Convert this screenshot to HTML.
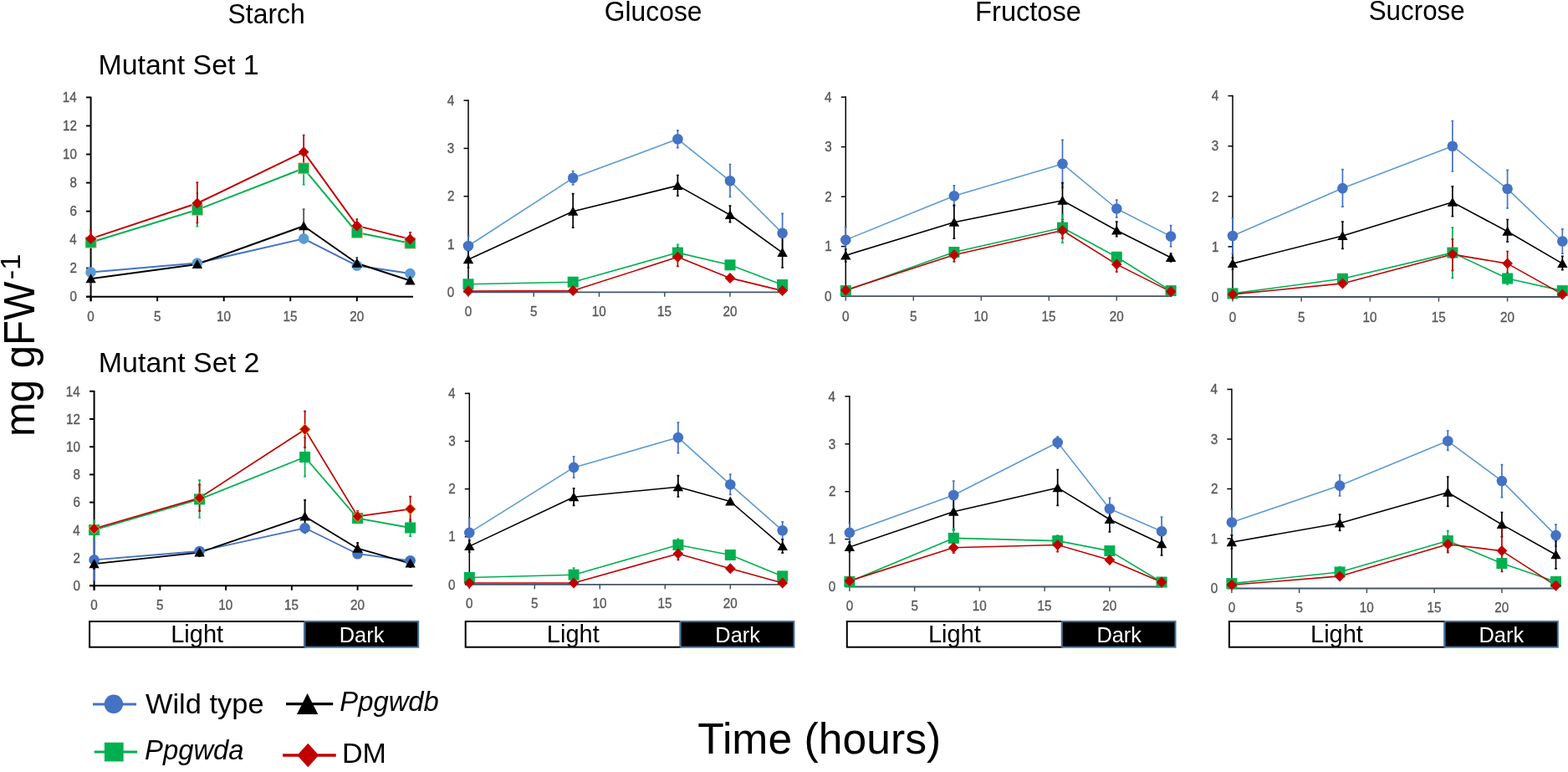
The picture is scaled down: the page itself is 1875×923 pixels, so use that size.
<!DOCTYPE html>
<html><head><meta charset="utf-8"><title>Figure</title>
<style>html,body{margin:0;padding:0;background:#fff;}body{width:1875px;height:923px;overflow:hidden;}svg{display:block;font-family:"Liberation Sans", Arial, sans-serif;}</style>
</head><body>
<svg width="1875" height="923" viewBox="0 0 1875 923"><text transform="translate(272.56,27.60) scale(0.9405,1)" font-size="33.93" fill="#000">Starch</text>
<text transform="translate(722.71,25.20) scale(0.9428,1)" font-size="33.79" fill="#000">Glucose</text>
<text transform="translate(1166.11,24.50) scale(0.9665,1)" font-size="33.75" fill="#000">Fructose</text>
<text transform="translate(1636.69,23.70) scale(0.9424,1)" font-size="33.29" fill="#000">Sucrose</text>
<text transform="translate(117.50,88.60) scale(1.0138,1)" font-size="33.45" fill="#000">Mutant Set 1</text>
<text transform="translate(117.80,445.30) scale(1.0159,1)" font-size="33.45" fill="#000">Mutant Set 2</text>
<g><line x1="108.6" y1="115.62" x2="108.6" y2="360.20" stroke="#000" stroke-width="2.0"/><line x1="103.1" y1="354.70" x2="108.6" y2="354.70" stroke="#000" stroke-width="2.0"/><text transform="translate(83.40,360.49) scale(0.92,1)" font-size="16.6" fill="#595959" stroke="#595959" stroke-width="0.35">0</text><line x1="103.1" y1="320.66" x2="108.6" y2="320.66" stroke="#000" stroke-width="2.0"/><text transform="translate(83.59,326.45) scale(0.92,1)" font-size="16.6" fill="#595959" stroke="#595959" stroke-width="0.35">2</text><line x1="103.1" y1="286.62" x2="108.6" y2="286.62" stroke="#000" stroke-width="2.0"/><text transform="translate(83.24,292.41) scale(0.92,1)" font-size="16.6" fill="#595959" stroke="#595959" stroke-width="0.35">4</text><line x1="103.1" y1="252.58" x2="108.6" y2="252.58" stroke="#000" stroke-width="2.0"/><text transform="translate(83.47,258.37) scale(0.92,1)" font-size="16.6" fill="#595959" stroke="#595959" stroke-width="0.35">6</text><line x1="103.1" y1="218.54" x2="108.6" y2="218.54" stroke="#000" stroke-width="2.0"/><text transform="translate(83.47,224.33) scale(0.92,1)" font-size="16.6" fill="#595959" stroke="#595959" stroke-width="0.35">8</text><line x1="103.1" y1="184.50" x2="108.6" y2="184.50" stroke="#000" stroke-width="2.0"/><text transform="translate(74.92,190.29) scale(0.92,1)" font-size="16.6" fill="#595959" stroke="#595959" stroke-width="0.35">10</text><line x1="103.1" y1="150.46" x2="108.6" y2="150.46" stroke="#000" stroke-width="2.0"/><text transform="translate(75.11,156.25) scale(0.92,1)" font-size="16.6" fill="#595959" stroke="#595959" stroke-width="0.35">12</text><line x1="103.1" y1="116.42" x2="108.6" y2="116.42" stroke="#000" stroke-width="2.0"/><text transform="translate(74.77,122.21) scale(0.92,1)" font-size="16.6" fill="#595959" stroke="#595959" stroke-width="0.35">14</text><line x1="103.1" y1="354.7" x2="494.00" y2="354.7" stroke="#000" stroke-width="2.0"/><line x1="108.60" y1="354.7" x2="108.60" y2="360.20" stroke="#000" stroke-width="2.0"/><text transform="translate(104.34,383.81) scale(0.92,1)" font-size="16.6" fill="#595959" stroke="#595959" stroke-width="0.35">0</text><line x1="188.15" y1="354.7" x2="188.15" y2="360.20" stroke="#000" stroke-width="2.0"/><text transform="translate(183.91,383.81) scale(0.92,1)" font-size="16.6" fill="#595959" stroke="#595959" stroke-width="0.35">5</text><line x1="267.70" y1="354.7" x2="267.70" y2="360.20" stroke="#000" stroke-width="2.0"/><text transform="translate(258.94,383.81) scale(0.92,1)" font-size="16.6" fill="#595959" stroke="#595959" stroke-width="0.35">10</text><line x1="347.25" y1="354.7" x2="347.25" y2="360.20" stroke="#000" stroke-width="2.0"/><text transform="translate(338.51,383.81) scale(0.92,1)" font-size="16.6" fill="#595959" stroke="#595959" stroke-width="0.35">15</text><line x1="426.80" y1="354.7" x2="426.80" y2="360.20" stroke="#000" stroke-width="2.0"/><text transform="translate(418.23,383.81) scale(0.92,1)" font-size="16.6" fill="#595959" stroke="#595959" stroke-width="0.35">20</text><path d="M108.60 322.00V329.00M107.20 322.00H110.00M107.20 329.00H110.00" stroke="#4472C4" stroke-width="1.7" fill="none"/><path d="M235.88 311.00V318.00M234.48 311.00H237.28M234.48 318.00H237.28" stroke="#4472C4" stroke-width="1.7" fill="none"/><path d="M363.16 282.00V289.00M361.76 282.00H364.56M361.76 289.00H364.56" stroke="#4472C4" stroke-width="1.7" fill="none"/><path d="M426.80 314.00V321.00M425.40 314.00H428.20M425.40 321.00H428.20" stroke="#4472C4" stroke-width="1.7" fill="none"/><path d="M490.44 324.00V330.00M489.04 324.00H491.84M489.04 330.00H491.84" stroke="#4472C4" stroke-width="1.7" fill="none"/><path d="M108.60 326.00V341.00M107.20 326.00H110.00M107.20 341.00H110.00" stroke="#5a5a5a" stroke-width="1.9" fill="none"/><path d="M235.88 312.00V320.00M234.48 312.00H237.28M234.48 320.00H237.28" stroke="#5a5a5a" stroke-width="1.9" fill="none"/><path d="M363.16 250.10V290.30M361.76 250.10H364.56M361.76 290.30H364.56" stroke="#5a5a5a" stroke-width="1.9" fill="none"/><path d="M426.80 308.00V321.40M425.40 308.00H428.20M425.40 321.40H428.20" stroke="#5a5a5a" stroke-width="1.9" fill="none"/><path d="M490.44 333.00V338.00M489.04 333.00H491.84M489.04 338.00H491.84" stroke="#5a5a5a" stroke-width="1.9" fill="none"/><path d="M108.60 284.00V296.00M107.20 284.00H110.00M107.20 296.00H110.00" stroke="#00B050" stroke-width="1.7" fill="none"/><path d="M235.88 231.00V270.60M234.48 231.00H237.28M234.48 270.60H237.28" stroke="#00B050" stroke-width="1.7" fill="none"/><path d="M363.16 182.00V220.60M361.76 182.00H364.56M361.76 220.60H364.56" stroke="#00B050" stroke-width="1.7" fill="none"/><path d="M426.80 272.00V282.00M425.40 272.00H428.20M425.40 282.00H428.20" stroke="#00B050" stroke-width="1.7" fill="none"/><path d="M490.44 286.00V295.00M489.04 286.00H491.84M489.04 295.00H491.84" stroke="#00B050" stroke-width="1.7" fill="none"/><path d="M108.60 275.40V295.40M107.20 275.40H110.00M107.20 295.40H110.00" stroke="#C00000" stroke-width="1.7" fill="none"/><path d="M235.88 218.20V266.30M234.48 218.20H237.28M234.48 266.30H237.28" stroke="#C00000" stroke-width="1.7" fill="none"/><path d="M363.16 161.50V201.90M361.76 161.50H364.56M361.76 201.90H364.56" stroke="#C00000" stroke-width="1.7" fill="none"/><path d="M426.80 262.00V277.80M425.40 262.00H428.20M425.40 277.80H428.20" stroke="#C00000" stroke-width="1.7" fill="none"/><path d="M490.44 277.80V294.00M489.04 277.80H491.84M489.04 294.00H491.84" stroke="#C00000" stroke-width="1.7" fill="none"/><polyline points="108.60,325.50 235.88,314.50 363.16,285.40 426.80,317.60 490.44,327.10" fill="none" stroke="#4472C4" stroke-width="2.0" stroke-linejoin="round"/><polyline points="108.60,333.30 235.88,315.90 363.16,270.20 426.80,314.70 490.44,335.50" fill="none" stroke="#000" stroke-width="2.0" stroke-linejoin="round"/><polyline points="108.60,289.70 235.88,250.80 363.16,201.30 426.80,278.00 490.44,290.70" fill="none" stroke="#00B050" stroke-width="2.0" stroke-linejoin="round"/><polyline points="108.60,285.40 235.88,243.00 363.16,181.70 426.80,269.90 490.44,285.90" fill="none" stroke="#C00000" stroke-width="2.0" stroke-linejoin="round"/><circle cx="108.60" cy="325.50" r="6.3" fill="#5B9BD5"/><circle cx="235.88" cy="314.50" r="6.3" fill="#5B9BD5"/><circle cx="363.16" cy="285.40" r="6.3" fill="#5B9BD5"/><circle cx="426.80" cy="317.60" r="6.3" fill="#5B9BD5"/><circle cx="490.44" cy="327.10" r="6.3" fill="#5B9BD5"/><path d="M108.60 327.30L114.80 338.30H102.40Z" fill="#000"/><path d="M235.88 309.90L242.08 320.90H229.68Z" fill="#000"/><path d="M363.16 264.20L369.36 275.20H356.96Z" fill="#000"/><path d="M426.80 308.70L433.00 319.70H420.60Z" fill="#000"/><path d="M490.44 329.50L496.64 340.50H484.24Z" fill="#000"/><rect x="102.10" y="283.20" width="13" height="13" fill="#00B050" stroke="#F4B183" stroke-width="0.8"/><rect x="229.38" y="244.30" width="13" height="13" fill="#00B050" stroke="#F4B183" stroke-width="0.8"/><rect x="356.66" y="194.80" width="13" height="13" fill="#00B050" stroke="#F4B183" stroke-width="0.8"/><rect x="420.30" y="271.50" width="13" height="13" fill="#00B050" stroke="#F4B183" stroke-width="0.8"/><rect x="483.94" y="284.20" width="13" height="13" fill="#00B050" stroke="#F4B183" stroke-width="0.8"/><path d="M108.60 278.90L115.00 285.40L108.60 291.90L102.20 285.40Z" fill="#C00000"/><path d="M235.88 236.50L242.28 243.00L235.88 249.50L229.48 243.00Z" fill="#C00000"/><path d="M363.16 175.20L369.56 181.70L363.16 188.20L356.76 181.70Z" fill="#C00000"/><path d="M426.80 263.40L433.20 269.90L426.80 276.40L420.40 269.90Z" fill="#C00000"/><path d="M490.44 279.40L496.84 285.90L490.44 292.40L484.04 285.90Z" fill="#C00000"/></g>
<g><line x1="560.0" y1="119.30" x2="560.0" y2="349.30" stroke="#000" stroke-width="1.5"/><line x1="554.5" y1="349.30" x2="560.0" y2="349.30" stroke="#000" stroke-width="1.5"/><text transform="translate(534.80,355.09) scale(0.92,1)" font-size="16.6" fill="#595959" stroke="#595959" stroke-width="0.35">0</text><line x1="554.5" y1="292.00" x2="560.0" y2="292.00" stroke="#000" stroke-width="1.5"/><text transform="translate(534.95,297.79) scale(0.92,1)" font-size="16.6" fill="#595959" stroke="#595959" stroke-width="0.35">1</text><line x1="554.5" y1="234.70" x2="560.0" y2="234.70" stroke="#000" stroke-width="1.5"/><text transform="translate(534.99,240.49) scale(0.92,1)" font-size="16.6" fill="#595959" stroke="#595959" stroke-width="0.35">2</text><line x1="554.5" y1="177.40" x2="560.0" y2="177.40" stroke="#000" stroke-width="1.5"/><text transform="translate(534.87,183.19) scale(0.92,1)" font-size="16.6" fill="#595959" stroke="#595959" stroke-width="0.35">3</text><line x1="554.5" y1="120.10" x2="560.0" y2="120.10" stroke="#000" stroke-width="1.5"/><text transform="translate(534.64,125.89) scale(0.92,1)" font-size="16.6" fill="#595959" stroke="#595959" stroke-width="0.35">4</text><line x1="560.0" y1="349.3" x2="937.10" y2="349.3" stroke="#44546A" stroke-width="1.8"/><line x1="560.00" y1="349.3" x2="560.00" y2="354.80" stroke="#44546A" stroke-width="1.5"/><text transform="translate(555.74,377.51) scale(0.92,1)" font-size="16.6" fill="#595959" stroke="#595959" stroke-width="0.35">0</text><line x1="638.25" y1="349.3" x2="638.25" y2="354.80" stroke="#44546A" stroke-width="1.5"/><text transform="translate(634.01,377.51) scale(0.92,1)" font-size="16.6" fill="#595959" stroke="#595959" stroke-width="0.35">5</text><line x1="716.50" y1="349.3" x2="716.50" y2="354.80" stroke="#44546A" stroke-width="1.5"/><text transform="translate(707.74,377.51) scale(0.92,1)" font-size="16.6" fill="#595959" stroke="#595959" stroke-width="0.35">10</text><line x1="794.75" y1="349.3" x2="794.75" y2="354.80" stroke="#44546A" stroke-width="1.5"/><text transform="translate(786.01,377.51) scale(0.92,1)" font-size="16.6" fill="#595959" stroke="#595959" stroke-width="0.35">15</text><line x1="873.00" y1="349.3" x2="873.00" y2="354.80" stroke="#44546A" stroke-width="1.5"/><text transform="translate(864.43,377.51) scale(0.92,1)" font-size="16.6" fill="#595959" stroke="#595959" stroke-width="0.35">20</text><path d="M560.00 282.00V306.00M558.60 282.00H561.40M558.60 306.00H561.40" stroke="#4472C4" stroke-width="1.7" fill="none"/><path d="M685.20 204.60V220.90M683.80 204.60H686.60M683.80 220.90H686.60" stroke="#4472C4" stroke-width="1.7" fill="none"/><path d="M810.40 155.90V176.70M809.00 155.90H811.80M809.00 176.70H811.80" stroke="#4472C4" stroke-width="1.7" fill="none"/><path d="M873.00 196.50V235.50M871.60 196.50H874.40M871.60 235.50H874.40" stroke="#4472C4" stroke-width="1.7" fill="none"/><path d="M935.60 255.30V302.10M934.20 255.30H937.00M934.20 302.10H937.00" stroke="#4472C4" stroke-width="1.7" fill="none"/><path d="M560.00 300.00V320.00M558.60 300.00H561.40M558.60 320.00H561.40" stroke="#000" stroke-width="1.7" fill="none"/><path d="M685.20 231.60V272.20M683.80 231.60H686.60M683.80 272.20H686.60" stroke="#000" stroke-width="1.7" fill="none"/><path d="M810.40 209.50V234.20M809.00 209.50H811.80M809.00 234.20H811.80" stroke="#000" stroke-width="1.7" fill="none"/><path d="M873.00 246.20V265.70M871.60 246.20H874.40M871.60 265.70H874.40" stroke="#000" stroke-width="1.7" fill="none"/><path d="M935.60 283.60V320.00M934.20 283.60H937.00M934.20 320.00H937.00" stroke="#000" stroke-width="1.7" fill="none"/><path d="M560.00 337.00V342.00M558.60 337.00H561.40M558.60 342.00H561.40" stroke="#00B050" stroke-width="1.7" fill="none"/><path d="M685.20 334.00V340.00M683.80 334.00H686.60M683.80 340.00H686.60" stroke="#00B050" stroke-width="1.7" fill="none"/><path d="M810.40 292.40V311.80M809.00 292.40H811.80M809.00 311.80H811.80" stroke="#00B050" stroke-width="1.7" fill="none"/><path d="M873.00 313.00V320.00M871.60 313.00H874.40M871.60 320.00H874.40" stroke="#00B050" stroke-width="1.7" fill="none"/><path d="M935.60 338.00V343.00M934.20 338.00H937.00M934.20 343.00H937.00" stroke="#00B050" stroke-width="1.7" fill="none"/><path d="M560.00 347.00V349.00M558.60 347.00H561.40M558.60 349.00H561.40" stroke="#C00000" stroke-width="1.7" fill="none"/><path d="M685.20 346.00V349.00M683.80 346.00H686.60M683.80 349.00H686.60" stroke="#C00000" stroke-width="1.7" fill="none"/><path d="M810.40 296.20V318.40M809.00 296.20H811.80M809.00 318.40H811.80" stroke="#C00000" stroke-width="1.7" fill="none"/><path d="M873.00 330.00V335.00M871.60 330.00H874.40M871.60 335.00H874.40" stroke="#C00000" stroke-width="1.7" fill="none"/><path d="M935.60 346.00V349.00M934.20 346.00H937.00M934.20 349.00H937.00" stroke="#C00000" stroke-width="1.7" fill="none"/><polyline points="560.00,294.00 685.20,212.80 810.40,166.30 873.00,216.30 935.60,278.70" fill="none" stroke="#5B9BD5" stroke-width="1.6" stroke-linejoin="round"/><polyline points="560.00,310.30 685.20,252.70 810.40,221.90 873.00,257.00 935.60,302.10" fill="none" stroke="#000" stroke-width="1.6" stroke-linejoin="round"/><polyline points="560.00,339.80 685.20,337.20 810.40,302.10 873.00,316.80 935.60,340.50" fill="none" stroke="#00B050" stroke-width="1.6" stroke-linejoin="round"/><polyline points="560.00,348.00 685.20,347.60 810.40,307.30 873.00,332.40 935.60,347.60" fill="none" stroke="#C00000" stroke-width="1.6" stroke-linejoin="round"/><circle cx="560.00" cy="294.00" r="6.3" fill="#4472C4"/><circle cx="685.20" cy="212.80" r="6.3" fill="#4472C4"/><circle cx="810.40" cy="166.30" r="6.3" fill="#4472C4"/><circle cx="873.00" cy="216.30" r="6.3" fill="#4472C4"/><circle cx="935.60" cy="278.70" r="6.3" fill="#4472C4"/><path d="M560.00 304.30L566.20 315.30H553.80Z" fill="#000"/><path d="M685.20 246.70L691.40 257.70H679.00Z" fill="#000"/><path d="M810.40 215.90L816.60 226.90H804.20Z" fill="#000"/><path d="M873.00 251.00L879.20 262.00H866.80Z" fill="#000"/><path d="M935.60 296.10L941.80 307.10H929.40Z" fill="#000"/><rect x="553.50" y="333.30" width="13" height="13" fill="#00B050"/><rect x="678.70" y="330.70" width="13" height="13" fill="#00B050"/><rect x="803.90" y="295.60" width="13" height="13" fill="#00B050"/><rect x="866.50" y="310.30" width="13" height="13" fill="#00B050"/><rect x="929.10" y="334.00" width="13" height="13" fill="#00B050"/><path d="M560.00 341.50L566.40 348.00L560.00 354.50L553.60 348.00Z" fill="#C00000"/><path d="M685.20 341.10L691.60 347.60L685.20 354.10L678.80 347.60Z" fill="#C00000"/><path d="M810.40 300.80L816.80 307.30L810.40 313.80L804.00 307.30Z" fill="#C00000"/><path d="M873.00 325.90L879.40 332.40L873.00 338.90L866.60 332.40Z" fill="#C00000"/><path d="M935.60 341.10L942.00 347.60L935.60 354.10L929.20 347.60Z" fill="#C00000"/></g>
<g><line x1="1011.3" y1="115.30" x2="1011.3" y2="354.10" stroke="#000" stroke-width="1.5"/><line x1="1005.8" y1="354.10" x2="1011.3" y2="354.10" stroke="#000" stroke-width="1.5"/><text transform="translate(986.10,359.89) scale(0.92,1)" font-size="16.6" fill="#595959" stroke="#595959" stroke-width="0.35">0</text><line x1="1005.8" y1="294.60" x2="1011.3" y2="294.60" stroke="#000" stroke-width="1.5"/><text transform="translate(986.25,300.39) scale(0.92,1)" font-size="16.6" fill="#595959" stroke="#595959" stroke-width="0.35">1</text><line x1="1005.8" y1="235.10" x2="1011.3" y2="235.10" stroke="#000" stroke-width="1.5"/><text transform="translate(986.29,240.89) scale(0.92,1)" font-size="16.6" fill="#595959" stroke="#595959" stroke-width="0.35">2</text><line x1="1005.8" y1="175.60" x2="1011.3" y2="175.60" stroke="#000" stroke-width="1.5"/><text transform="translate(986.17,181.39) scale(0.92,1)" font-size="16.6" fill="#595959" stroke="#595959" stroke-width="0.35">3</text><line x1="1005.8" y1="116.10" x2="1011.3" y2="116.10" stroke="#000" stroke-width="1.5"/><text transform="translate(985.94,121.89) scale(0.92,1)" font-size="16.6" fill="#595959" stroke="#595959" stroke-width="0.35">4</text><line x1="1011.3" y1="354.1" x2="1401.60" y2="354.1" stroke="#44546A" stroke-width="1.8"/><line x1="1011.30" y1="354.1" x2="1011.30" y2="359.60" stroke="#44546A" stroke-width="1.5"/><text transform="translate(1007.04,383.81) scale(0.92,1)" font-size="16.6" fill="#595959" stroke="#595959" stroke-width="0.35">0</text><line x1="1092.30" y1="354.1" x2="1092.30" y2="359.60" stroke="#44546A" stroke-width="1.5"/><text transform="translate(1088.06,383.81) scale(0.92,1)" font-size="16.6" fill="#595959" stroke="#595959" stroke-width="0.35">5</text><line x1="1173.30" y1="354.1" x2="1173.30" y2="359.60" stroke="#44546A" stroke-width="1.5"/><text transform="translate(1164.54,383.81) scale(0.92,1)" font-size="16.6" fill="#595959" stroke="#595959" stroke-width="0.35">10</text><line x1="1254.30" y1="354.1" x2="1254.30" y2="359.60" stroke="#44546A" stroke-width="1.5"/><text transform="translate(1245.56,383.81) scale(0.92,1)" font-size="16.6" fill="#595959" stroke="#595959" stroke-width="0.35">15</text><line x1="1335.30" y1="354.1" x2="1335.30" y2="359.60" stroke="#44546A" stroke-width="1.5"/><text transform="translate(1326.73,383.81) scale(0.92,1)" font-size="16.6" fill="#595959" stroke="#595959" stroke-width="0.35">20</text><path d="M1011.30 271.30V302.50M1009.90 271.30H1012.70M1009.90 302.50H1012.70" stroke="#4472C4" stroke-width="1.7" fill="none"/><path d="M1140.90 221.90V246.20M1139.50 221.90H1142.30M1139.50 246.20H1142.30" stroke="#4472C4" stroke-width="1.7" fill="none"/><path d="M1270.50 167.30V224.50M1269.10 167.30H1271.90M1269.10 224.50H1271.90" stroke="#4472C4" stroke-width="1.7" fill="none"/><path d="M1335.30 239.10V259.90M1333.90 239.10H1336.70M1333.90 259.90H1336.70" stroke="#4472C4" stroke-width="1.7" fill="none"/><path d="M1400.10 269.60V295.00M1398.70 269.60H1401.50M1398.70 295.00H1401.50" stroke="#4472C4" stroke-width="1.7" fill="none"/><path d="M1011.30 298.00V313.00M1009.90 298.00H1012.70M1009.90 313.00H1012.70" stroke="#000" stroke-width="1.7" fill="none"/><path d="M1140.90 245.30V285.20M1139.50 245.30H1142.30M1139.50 285.20H1142.30" stroke="#000" stroke-width="1.7" fill="none"/><path d="M1270.50 218.60V262.50M1269.10 218.60H1271.90M1269.10 262.50H1271.90" stroke="#000" stroke-width="1.7" fill="none"/><path d="M1335.30 265.10V282.60M1333.90 265.10H1336.70M1333.90 282.60H1336.70" stroke="#000" stroke-width="1.7" fill="none"/><path d="M1400.10 303.00V313.00M1398.70 303.00H1401.50M1398.70 313.00H1401.50" stroke="#000" stroke-width="1.7" fill="none"/><path d="M1011.30 345.00V350.00M1009.90 345.00H1012.70M1009.90 350.00H1012.70" stroke="#00B050" stroke-width="1.7" fill="none"/><path d="M1140.90 296.00V307.00M1139.50 296.00H1142.30M1139.50 307.00H1142.30" stroke="#00B050" stroke-width="1.7" fill="none"/><path d="M1270.50 256.00V290.10M1269.10 256.00H1271.90M1269.10 290.10H1271.90" stroke="#00B050" stroke-width="1.7" fill="none"/><path d="M1335.30 302.00V312.00M1333.90 302.00H1336.70M1333.90 312.00H1336.70" stroke="#00B050" stroke-width="1.7" fill="none"/><path d="M1400.10 345.00V350.00M1398.70 345.00H1401.50M1398.70 350.00H1401.50" stroke="#00B050" stroke-width="1.7" fill="none"/><path d="M1011.30 345.00V349.00M1009.90 345.00H1012.70M1009.90 349.00H1012.70" stroke="#C00000" stroke-width="1.7" fill="none"/><path d="M1140.90 296.50V312.90M1139.50 296.50H1142.30M1139.50 312.90H1142.30" stroke="#C00000" stroke-width="1.7" fill="none"/><path d="M1270.50 265.00V285.00M1269.10 265.00H1271.90M1269.10 285.00H1271.90" stroke="#C00000" stroke-width="1.7" fill="none"/><path d="M1335.30 307.00V325.20M1333.90 307.00H1336.70M1333.90 325.20H1336.70" stroke="#C00000" stroke-width="1.7" fill="none"/><path d="M1400.10 346.00V351.00M1398.70 346.00H1401.50M1398.70 351.00H1401.50" stroke="#C00000" stroke-width="1.7" fill="none"/><polyline points="1011.30,286.90 1140.90,234.20 1270.50,195.90 1335.30,249.50 1400.10,282.60" fill="none" stroke="#5B9BD5" stroke-width="1.6" stroke-linejoin="round"/><polyline points="1011.30,305.40 1140.90,265.70 1270.50,239.70 1335.30,275.50 1400.10,308.00" fill="none" stroke="#000" stroke-width="1.6" stroke-linejoin="round"/><polyline points="1011.30,347.60 1140.90,301.50 1270.50,272.20 1335.30,307.30 1400.10,347.60" fill="none" stroke="#00B050" stroke-width="1.6" stroke-linejoin="round"/><polyline points="1011.30,347.00 1140.90,304.70 1270.50,275.50 1335.30,316.10 1400.10,348.60" fill="none" stroke="#C00000" stroke-width="1.6" stroke-linejoin="round"/><circle cx="1011.30" cy="286.90" r="6.3" fill="#4472C4"/><circle cx="1140.90" cy="234.20" r="6.3" fill="#4472C4"/><circle cx="1270.50" cy="195.90" r="6.3" fill="#4472C4"/><circle cx="1335.30" cy="249.50" r="6.3" fill="#4472C4"/><circle cx="1400.10" cy="282.60" r="6.3" fill="#4472C4"/><path d="M1011.30 299.40L1017.50 310.40H1005.10Z" fill="#000"/><path d="M1140.90 259.70L1147.10 270.70H1134.70Z" fill="#000"/><path d="M1270.50 233.70L1276.70 244.70H1264.30Z" fill="#000"/><path d="M1335.30 269.50L1341.50 280.50H1329.10Z" fill="#000"/><path d="M1400.10 302.00L1406.30 313.00H1393.90Z" fill="#000"/><rect x="1004.80" y="341.10" width="13" height="13" fill="#00B050"/><rect x="1134.40" y="295.00" width="13" height="13" fill="#00B050"/><rect x="1264.00" y="265.70" width="13" height="13" fill="#00B050"/><rect x="1328.80" y="300.80" width="13" height="13" fill="#00B050"/><rect x="1393.60" y="341.10" width="13" height="13" fill="#00B050"/><path d="M1011.30 340.50L1017.70 347.00L1011.30 353.50L1004.90 347.00Z" fill="#C00000"/><path d="M1140.90 298.20L1147.30 304.70L1140.90 311.20L1134.50 304.70Z" fill="#C00000"/><path d="M1270.50 269.00L1276.90 275.50L1270.50 282.00L1264.10 275.50Z" fill="#C00000"/><path d="M1335.30 309.60L1341.70 316.10L1335.30 322.60L1328.90 316.10Z" fill="#C00000"/><path d="M1400.10 342.10L1406.50 348.60L1400.10 355.10L1393.70 348.60Z" fill="#C00000"/></g>
<g><line x1="1474.0" y1="113.80" x2="1474.0" y2="355.00" stroke="#000" stroke-width="1.5"/><line x1="1468.5" y1="355.00" x2="1474.0" y2="355.00" stroke="#000" stroke-width="1.5"/><text transform="translate(1448.80,360.79) scale(0.92,1)" font-size="16.6" fill="#595959" stroke="#595959" stroke-width="0.35">0</text><line x1="1468.5" y1="294.90" x2="1474.0" y2="294.90" stroke="#000" stroke-width="1.5"/><text transform="translate(1448.95,300.69) scale(0.92,1)" font-size="16.6" fill="#595959" stroke="#595959" stroke-width="0.35">1</text><line x1="1468.5" y1="234.80" x2="1474.0" y2="234.80" stroke="#000" stroke-width="1.5"/><text transform="translate(1448.99,240.59) scale(0.92,1)" font-size="16.6" fill="#595959" stroke="#595959" stroke-width="0.35">2</text><line x1="1468.5" y1="174.70" x2="1474.0" y2="174.70" stroke="#000" stroke-width="1.5"/><text transform="translate(1448.87,180.49) scale(0.92,1)" font-size="16.6" fill="#595959" stroke="#595959" stroke-width="0.35">3</text><line x1="1468.5" y1="114.60" x2="1474.0" y2="114.60" stroke="#000" stroke-width="1.5"/><text transform="translate(1448.64,120.39) scale(0.92,1)" font-size="16.6" fill="#595959" stroke="#595959" stroke-width="0.35">4</text><line x1="1474.0" y1="355.0" x2="1869.82" y2="355.0" stroke="#44546A" stroke-width="1.8"/><line x1="1474.00" y1="355.0" x2="1474.00" y2="360.50" stroke="#44546A" stroke-width="1.5"/><text transform="translate(1469.74,384.61) scale(0.92,1)" font-size="16.6" fill="#595959" stroke="#595959" stroke-width="0.35">0</text><line x1="1556.15" y1="355.0" x2="1556.15" y2="360.50" stroke="#44546A" stroke-width="1.5"/><text transform="translate(1551.91,384.61) scale(0.92,1)" font-size="16.6" fill="#595959" stroke="#595959" stroke-width="0.35">5</text><line x1="1638.30" y1="355.0" x2="1638.30" y2="360.50" stroke="#44546A" stroke-width="1.5"/><text transform="translate(1629.54,384.61) scale(0.92,1)" font-size="16.6" fill="#595959" stroke="#595959" stroke-width="0.35">10</text><line x1="1720.45" y1="355.0" x2="1720.45" y2="360.50" stroke="#44546A" stroke-width="1.5"/><text transform="translate(1711.71,384.61) scale(0.92,1)" font-size="16.6" fill="#595959" stroke="#595959" stroke-width="0.35">15</text><line x1="1802.60" y1="355.0" x2="1802.60" y2="360.50" stroke="#44546A" stroke-width="1.5"/><text transform="translate(1794.03,384.61) scale(0.92,1)" font-size="16.6" fill="#595959" stroke="#595959" stroke-width="0.35">20</text><path d="M1474.00 260.90V303.10M1472.60 260.90H1475.40M1472.60 303.10H1475.40" stroke="#4472C4" stroke-width="1.7" fill="none"/><path d="M1605.44 202.70V247.20M1604.04 202.70H1606.84M1604.04 247.20H1606.84" stroke="#4472C4" stroke-width="1.7" fill="none"/><path d="M1736.88 144.50V205.00M1735.48 144.50H1738.28M1735.48 205.00H1738.28" stroke="#4472C4" stroke-width="1.7" fill="none"/><path d="M1802.60 203.30V248.80M1801.20 203.30H1804.00M1801.20 248.80H1804.00" stroke="#4472C4" stroke-width="1.7" fill="none"/><path d="M1868.32 273.90V303.10M1866.92 273.90H1869.72M1866.92 303.10H1869.72" stroke="#4472C4" stroke-width="1.7" fill="none"/><path d="M1474.00 308.00V322.00M1472.60 308.00H1475.40M1472.60 322.00H1475.40" stroke="#000" stroke-width="1.7" fill="none"/><path d="M1605.44 265.10V297.30M1604.04 265.10H1606.84M1604.04 297.30H1606.84" stroke="#000" stroke-width="1.7" fill="none"/><path d="M1736.88 222.80V258.60M1735.48 222.80H1738.28M1735.48 258.60H1738.28" stroke="#000" stroke-width="1.7" fill="none"/><path d="M1802.60 262.50V289.10M1801.20 262.50H1804.00M1801.20 289.10H1804.00" stroke="#000" stroke-width="1.7" fill="none"/><path d="M1868.32 306.40V322.60M1866.92 306.40H1869.72M1866.92 322.60H1869.72" stroke="#000" stroke-width="1.7" fill="none"/><path d="M1474.00 348.00V353.00M1472.60 348.00H1475.40M1472.60 353.00H1475.40" stroke="#00B050" stroke-width="1.7" fill="none"/><path d="M1605.44 328.00V338.00M1604.04 328.00H1606.84M1604.04 338.00H1606.84" stroke="#00B050" stroke-width="1.7" fill="none"/><path d="M1736.88 272.20V332.40M1735.48 272.20H1738.28M1735.48 332.40H1738.28" stroke="#00B050" stroke-width="1.7" fill="none"/><path d="M1802.60 326.00V340.00M1801.20 326.00H1804.00M1801.20 340.00H1804.00" stroke="#00B050" stroke-width="1.7" fill="none"/><path d="M1868.32 345.00V350.00M1866.92 345.00H1869.72M1866.92 350.00H1869.72" stroke="#00B050" stroke-width="1.7" fill="none"/><path d="M1474.00 350.00V354.00M1472.60 350.00H1475.40M1472.60 354.00H1475.40" stroke="#C00000" stroke-width="1.7" fill="none"/><path d="M1605.44 335.00V342.00M1604.04 335.00H1606.84M1604.04 342.00H1606.84" stroke="#C00000" stroke-width="1.7" fill="none"/><path d="M1736.88 285.90V323.30M1735.48 285.90H1738.28M1735.48 323.30H1738.28" stroke="#C00000" stroke-width="1.7" fill="none"/><path d="M1802.60 300.50V329.70M1801.20 300.50H1804.00M1801.20 329.70H1804.00" stroke="#C00000" stroke-width="1.7" fill="none"/><path d="M1868.32 350.00V354.00M1866.92 350.00H1869.72M1866.92 354.00H1869.72" stroke="#C00000" stroke-width="1.7" fill="none"/><polyline points="1474.00,282.00 1605.44,225.10 1736.88,174.70 1802.60,225.80 1868.32,288.50" fill="none" stroke="#5B9BD5" stroke-width="1.6" stroke-linejoin="round"/><polyline points="1474.00,315.10 1605.44,282.00 1736.88,241.70 1802.60,276.80 1868.32,315.10" fill="none" stroke="#000" stroke-width="1.6" stroke-linejoin="round"/><polyline points="1474.00,350.90 1605.44,333.30 1736.88,302.10 1802.60,333.00 1868.32,347.60" fill="none" stroke="#00B050" stroke-width="1.6" stroke-linejoin="round"/><polyline points="1474.00,351.90 1605.44,338.90 1736.88,304.10 1802.60,315.10 1868.32,351.90" fill="none" stroke="#C00000" stroke-width="1.6" stroke-linejoin="round"/><circle cx="1474.00" cy="282.00" r="6.3" fill="#4472C4"/><circle cx="1605.44" cy="225.10" r="6.3" fill="#4472C4"/><circle cx="1736.88" cy="174.70" r="6.3" fill="#4472C4"/><circle cx="1802.60" cy="225.80" r="6.3" fill="#4472C4"/><circle cx="1868.32" cy="288.50" r="6.3" fill="#4472C4"/><path d="M1474.00 309.10L1480.20 320.10H1467.80Z" fill="#000"/><path d="M1605.44 276.00L1611.64 287.00H1599.24Z" fill="#000"/><path d="M1736.88 235.70L1743.08 246.70H1730.68Z" fill="#000"/><path d="M1802.60 270.80L1808.80 281.80H1796.40Z" fill="#000"/><path d="M1868.32 309.10L1874.52 320.10H1862.12Z" fill="#000"/><rect x="1467.50" y="344.40" width="13" height="13" fill="#00B050"/><rect x="1598.94" y="326.80" width="13" height="13" fill="#00B050"/><rect x="1730.38" y="295.60" width="13" height="13" fill="#00B050"/><rect x="1796.10" y="326.50" width="13" height="13" fill="#00B050"/><rect x="1861.82" y="341.10" width="13" height="13" fill="#00B050"/><path d="M1474.00 345.40L1480.40 351.90L1474.00 358.40L1467.60 351.90Z" fill="#C00000"/><path d="M1605.44 332.40L1611.84 338.90L1605.44 345.40L1599.04 338.90Z" fill="#C00000"/><path d="M1736.88 297.60L1743.28 304.10L1736.88 310.60L1730.48 304.10Z" fill="#C00000"/><path d="M1802.60 308.60L1809.00 315.10L1802.60 321.60L1796.20 315.10Z" fill="#C00000"/><path d="M1868.32 345.40L1874.72 351.90L1868.32 358.40L1861.92 351.90Z" fill="#C00000"/></g>
<g><line x1="112.6" y1="467.00" x2="112.6" y2="705.70" stroke="#000" stroke-width="2.0"/><line x1="107.1" y1="700.20" x2="112.6" y2="700.20" stroke="#000" stroke-width="2.0"/><text transform="translate(87.40,705.99) scale(0.92,1)" font-size="16.6" fill="#595959" stroke="#595959" stroke-width="0.35">0</text><line x1="107.1" y1="667.00" x2="112.6" y2="667.00" stroke="#000" stroke-width="2.0"/><text transform="translate(87.59,672.79) scale(0.92,1)" font-size="16.6" fill="#595959" stroke="#595959" stroke-width="0.35">2</text><line x1="107.1" y1="633.80" x2="112.6" y2="633.80" stroke="#000" stroke-width="2.0"/><text transform="translate(87.24,639.59) scale(0.92,1)" font-size="16.6" fill="#595959" stroke="#595959" stroke-width="0.35">4</text><line x1="107.1" y1="600.60" x2="112.6" y2="600.60" stroke="#000" stroke-width="2.0"/><text transform="translate(87.47,606.39) scale(0.92,1)" font-size="16.6" fill="#595959" stroke="#595959" stroke-width="0.35">6</text><line x1="107.1" y1="567.40" x2="112.6" y2="567.40" stroke="#000" stroke-width="2.0"/><text transform="translate(87.47,573.19) scale(0.92,1)" font-size="16.6" fill="#595959" stroke="#595959" stroke-width="0.35">8</text><line x1="107.1" y1="534.20" x2="112.6" y2="534.20" stroke="#000" stroke-width="2.0"/><text transform="translate(78.92,539.99) scale(0.92,1)" font-size="16.6" fill="#595959" stroke="#595959" stroke-width="0.35">10</text><line x1="107.1" y1="501.00" x2="112.6" y2="501.00" stroke="#000" stroke-width="2.0"/><text transform="translate(79.11,506.79) scale(0.92,1)" font-size="16.6" fill="#595959" stroke="#595959" stroke-width="0.35">12</text><line x1="107.1" y1="467.80" x2="112.6" y2="467.80" stroke="#000" stroke-width="2.0"/><text transform="translate(78.77,473.59) scale(0.92,1)" font-size="16.6" fill="#595959" stroke="#595959" stroke-width="0.35">14</text><line x1="107.1" y1="700.2" x2="493.30" y2="700.2" stroke="#000" stroke-width="2.0"/><line x1="112.60" y1="700.2" x2="112.60" y2="705.70" stroke="#000" stroke-width="2.0"/><text transform="translate(108.34,728.61) scale(0.92,1)" font-size="16.6" fill="#595959" stroke="#595959" stroke-width="0.35">0</text><line x1="191.35" y1="700.2" x2="191.35" y2="705.70" stroke="#000" stroke-width="2.0"/><text transform="translate(187.11,728.61) scale(0.92,1)" font-size="16.6" fill="#595959" stroke="#595959" stroke-width="0.35">5</text><line x1="270.10" y1="700.2" x2="270.10" y2="705.70" stroke="#000" stroke-width="2.0"/><text transform="translate(261.34,728.61) scale(0.92,1)" font-size="16.6" fill="#595959" stroke="#595959" stroke-width="0.35">10</text><line x1="348.85" y1="700.2" x2="348.85" y2="705.70" stroke="#000" stroke-width="2.0"/><text transform="translate(340.11,728.61) scale(0.92,1)" font-size="16.6" fill="#595959" stroke="#595959" stroke-width="0.35">15</text><line x1="427.60" y1="700.2" x2="427.60" y2="705.70" stroke="#000" stroke-width="2.0"/><text transform="translate(419.03,728.61) scale(0.92,1)" font-size="16.6" fill="#595959" stroke="#595959" stroke-width="0.35">20</text><path d="M112.60 645.00V693.70M111.20 645.00H114.00M111.20 693.70H114.00" stroke="#4472C4" stroke-width="1.7" fill="none"/><path d="M238.60 655.00V663.00M237.20 655.00H240.00M237.20 663.00H240.00" stroke="#4472C4" stroke-width="1.7" fill="none"/><path d="M364.60 627.00V635.00M363.20 627.00H366.00M363.20 635.00H366.00" stroke="#4472C4" stroke-width="1.7" fill="none"/><path d="M427.60 658.00V666.00M426.20 658.00H429.00M426.20 666.00H429.00" stroke="#4472C4" stroke-width="1.7" fill="none"/><path d="M490.60 666.00V674.00M489.20 666.00H492.00M489.20 674.00H492.00" stroke="#4472C4" stroke-width="1.7" fill="none"/><path d="M112.60 668.00V680.00M111.20 668.00H114.00M111.20 680.00H114.00" stroke="#000" stroke-width="1.9" fill="none"/><path d="M238.60 656.00V665.00M237.20 656.00H240.00M237.20 665.00H240.00" stroke="#000" stroke-width="1.9" fill="none"/><path d="M364.60 597.90V636.90M363.20 597.90H366.00M363.20 636.90H366.00" stroke="#000" stroke-width="1.9" fill="none"/><path d="M427.60 648.90V662.50M426.20 648.90H429.00M426.20 662.50H429.00" stroke="#000" stroke-width="1.9" fill="none"/><path d="M490.60 669.00V678.00M489.20 669.00H492.00M489.20 678.00H492.00" stroke="#000" stroke-width="1.9" fill="none"/><path d="M112.60 622.20V645.00M111.20 622.20H114.00M111.20 645.00H114.00" stroke="#00B050" stroke-width="1.7" fill="none"/><path d="M238.60 574.10V619.00M237.20 574.10H240.00M237.20 619.00H240.00" stroke="#00B050" stroke-width="1.7" fill="none"/><path d="M364.60 523.40V569.60M363.20 523.40H366.00M363.20 569.60H366.00" stroke="#00B050" stroke-width="1.7" fill="none"/><path d="M427.60 614.00V625.00M426.20 614.00H429.00M426.20 625.00H429.00" stroke="#00B050" stroke-width="1.7" fill="none"/><path d="M490.60 621.00V641.10M489.20 621.00H492.00M489.20 641.10H492.00" stroke="#00B050" stroke-width="1.7" fill="none"/><path d="M112.60 626.00V638.00M111.20 626.00H114.00M111.20 638.00H114.00" stroke="#C00000" stroke-width="1.7" fill="none"/><path d="M238.60 579.30V610.90M237.20 579.30H240.00M237.20 610.90H240.00" stroke="#C00000" stroke-width="1.7" fill="none"/><path d="M364.60 491.60V535.10M363.20 491.60H366.00M363.20 535.10H366.00" stroke="#C00000" stroke-width="1.7" fill="none"/><path d="M427.60 610.90V624.00M426.20 610.90H429.00M426.20 624.00H429.00" stroke="#C00000" stroke-width="1.7" fill="none"/><path d="M490.60 593.60V623.60M489.20 593.60H492.00M489.20 623.60H492.00" stroke="#C00000" stroke-width="1.7" fill="none"/><polyline points="112.60,669.40 238.60,659.00 364.60,631.30 427.60,662.20 490.60,670.30" fill="none" stroke="#4472C4" stroke-width="1.8" stroke-linejoin="round"/><polyline points="112.60,674.20 238.60,660.60 364.60,617.40 427.60,655.70 490.60,673.60" fill="none" stroke="#000" stroke-width="1.8" stroke-linejoin="round"/><polyline points="112.60,633.60 238.60,596.90 364.60,546.50 427.60,619.60 490.60,631.00" fill="none" stroke="#00B050" stroke-width="1.8" stroke-linejoin="round"/><polyline points="112.60,632.00 238.60,595.30 364.60,513.40 427.60,617.40 490.60,608.60" fill="none" stroke="#C00000" stroke-width="1.8" stroke-linejoin="round"/><circle cx="112.60" cy="669.40" r="6.3" fill="#4472C4"/><circle cx="238.60" cy="659.00" r="6.3" fill="#4472C4"/><circle cx="364.60" cy="631.30" r="6.3" fill="#4472C4"/><circle cx="427.60" cy="662.20" r="6.3" fill="#4472C4"/><circle cx="490.60" cy="670.30" r="6.3" fill="#4472C4"/><path d="M112.60 668.20L118.80 679.20H106.40Z" fill="#000"/><path d="M238.60 654.60L244.80 665.60H232.40Z" fill="#000"/><path d="M364.60 611.40L370.80 622.40H358.40Z" fill="#000"/><path d="M427.60 649.70L433.80 660.70H421.40Z" fill="#000"/><path d="M490.60 667.60L496.80 678.60H484.40Z" fill="#000"/><rect x="106.10" y="627.10" width="13" height="13" fill="#00B050"/><rect x="232.10" y="590.40" width="13" height="13" fill="#00B050"/><rect x="358.10" y="540.00" width="13" height="13" fill="#00B050"/><rect x="421.10" y="613.10" width="13" height="13" fill="#00B050"/><rect x="484.10" y="624.50" width="13" height="13" fill="#00B050"/><path d="M112.60 625.50L119.00 632.00L112.60 638.50L106.20 632.00Z" fill="#C00000" stroke="#FFC000" stroke-width="0.8"/><path d="M238.60 588.80L245.00 595.30L238.60 601.80L232.20 595.30Z" fill="#C00000" stroke="#FFC000" stroke-width="0.8"/><path d="M364.60 506.90L371.00 513.40L364.60 519.90L358.20 513.40Z" fill="#C00000" stroke="#FFC000" stroke-width="0.8"/><path d="M427.60 610.90L434.00 617.40L427.60 623.90L421.20 617.40Z" fill="#C00000" stroke="#FFC000" stroke-width="0.8"/><path d="M490.60 602.10L497.00 608.60L490.60 615.10L484.20 608.60Z" fill="#C00000" stroke="#FFC000" stroke-width="0.8"/></g>
<g><line x1="561.3" y1="469.60" x2="561.3" y2="698.80" stroke="#000" stroke-width="1.5"/><line x1="555.8" y1="698.80" x2="561.3" y2="698.80" stroke="#000" stroke-width="1.5"/><text transform="translate(536.10,704.59) scale(0.92,1)" font-size="16.6" fill="#595959" stroke="#595959" stroke-width="0.35">0</text><line x1="555.8" y1="641.70" x2="561.3" y2="641.70" stroke="#000" stroke-width="1.5"/><text transform="translate(536.25,647.49) scale(0.92,1)" font-size="16.6" fill="#595959" stroke="#595959" stroke-width="0.35">1</text><line x1="555.8" y1="584.60" x2="561.3" y2="584.60" stroke="#000" stroke-width="1.5"/><text transform="translate(536.29,590.39) scale(0.92,1)" font-size="16.6" fill="#595959" stroke="#595959" stroke-width="0.35">2</text><line x1="555.8" y1="527.50" x2="561.3" y2="527.50" stroke="#000" stroke-width="1.5"/><text transform="translate(536.17,533.29) scale(0.92,1)" font-size="16.6" fill="#595959" stroke="#595959" stroke-width="0.35">3</text><line x1="555.8" y1="470.40" x2="561.3" y2="470.40" stroke="#000" stroke-width="1.5"/><text transform="translate(535.94,476.19) scale(0.92,1)" font-size="16.6" fill="#595959" stroke="#595959" stroke-width="0.35">4</text><line x1="561.3" y1="698.8" x2="937.20" y2="698.8" stroke="#44546A" stroke-width="1.8"/><line x1="561.30" y1="698.8" x2="561.30" y2="704.30" stroke="#44546A" stroke-width="1.5"/><text transform="translate(557.04,726.91) scale(0.92,1)" font-size="16.6" fill="#595959" stroke="#595959" stroke-width="0.35">0</text><line x1="639.30" y1="698.8" x2="639.30" y2="704.30" stroke="#44546A" stroke-width="1.5"/><text transform="translate(635.06,726.91) scale(0.92,1)" font-size="16.6" fill="#595959" stroke="#595959" stroke-width="0.35">5</text><line x1="717.30" y1="698.8" x2="717.30" y2="704.30" stroke="#44546A" stroke-width="1.5"/><text transform="translate(708.54,726.91) scale(0.92,1)" font-size="16.6" fill="#595959" stroke="#595959" stroke-width="0.35">10</text><line x1="795.30" y1="698.8" x2="795.30" y2="704.30" stroke="#44546A" stroke-width="1.5"/><text transform="translate(786.56,726.91) scale(0.92,1)" font-size="16.6" fill="#595959" stroke="#595959" stroke-width="0.35">15</text><line x1="873.30" y1="698.8" x2="873.30" y2="704.30" stroke="#44546A" stroke-width="1.5"/><text transform="translate(864.73,726.91) scale(0.92,1)" font-size="16.6" fill="#595959" stroke="#595959" stroke-width="0.35">20</text><path d="M561.30 619.00V654.80M559.90 619.00H562.70M559.90 654.80H562.70" stroke="#4472C4" stroke-width="1.7" fill="none"/><path d="M686.10 545.90V571.20M684.70 545.90H687.50M684.70 571.20H687.50" stroke="#4472C4" stroke-width="1.7" fill="none"/><path d="M810.90 505.20V541.60M809.50 505.20H812.30M809.50 541.60H812.30" stroke="#4472C4" stroke-width="1.7" fill="none"/><path d="M873.30 567.00V591.40M871.90 567.00H874.70M871.90 591.40H874.70" stroke="#4472C4" stroke-width="1.7" fill="none"/><path d="M935.70 623.90V644.70M934.30 623.90H937.10M934.30 644.70H937.10" stroke="#4472C4" stroke-width="1.7" fill="none"/><path d="M561.30 646.00V660.00M559.90 646.00H562.70M559.90 660.00H562.70" stroke="#000" stroke-width="1.7" fill="none"/><path d="M686.10 583.90V604.40M684.70 583.90H687.50M684.70 604.40H687.50" stroke="#000" stroke-width="1.7" fill="none"/><path d="M810.90 568.60V594.00M809.50 568.60H812.30M809.50 594.00H812.30" stroke="#000" stroke-width="1.7" fill="none"/><path d="M873.30 599.00V600.00M871.90 599.00H874.70M871.90 600.00H874.70" stroke="#000" stroke-width="1.7" fill="none"/><path d="M935.70 645.00V661.20M934.30 645.00H937.10M934.30 661.20H937.10" stroke="#000" stroke-width="1.7" fill="none"/><path d="M561.30 688.00V693.00M559.90 688.00H562.70M559.90 693.00H562.70" stroke="#00B050" stroke-width="1.7" fill="none"/><path d="M686.10 679.00V695.00M684.70 679.00H687.50M684.70 695.00H687.50" stroke="#00B050" stroke-width="1.7" fill="none"/><path d="M810.90 644.30V658.70M809.50 644.30H812.30M809.50 658.70H812.30" stroke="#00B050" stroke-width="1.7" fill="none"/><path d="M873.30 659.00V668.00M871.90 659.00H874.70M871.90 668.00H874.70" stroke="#00B050" stroke-width="1.7" fill="none"/><path d="M935.70 686.00V692.00M934.30 686.00H937.10M934.30 692.00H937.10" stroke="#00B050" stroke-width="1.7" fill="none"/><path d="M561.30 696.00V698.00M559.90 696.00H562.70M559.90 698.00H562.70" stroke="#C00000" stroke-width="1.7" fill="none"/><path d="M686.10 696.00V698.00M684.70 696.00H687.50M684.70 698.00H687.50" stroke="#C00000" stroke-width="1.7" fill="none"/><path d="M810.90 654.40V669.40M809.50 654.40H812.30M809.50 669.40H812.30" stroke="#C00000" stroke-width="1.7" fill="none"/><path d="M873.30 677.00V683.00M871.90 677.00H874.70M871.90 683.00H874.70" stroke="#C00000" stroke-width="1.7" fill="none"/><path d="M935.70 696.00V698.00M934.30 696.00H937.10M934.30 698.00H937.10" stroke="#C00000" stroke-width="1.7" fill="none"/><polyline points="561.30,636.90 686.10,558.90 810.90,523.10 873.30,579.30 935.70,634.30" fill="none" stroke="#5B9BD5" stroke-width="1.6" stroke-linejoin="round"/><polyline points="561.30,653.10 686.10,594.30 810.90,582.30 873.30,599.50 935.70,653.10" fill="none" stroke="#000" stroke-width="1.6" stroke-linejoin="round"/><polyline points="561.30,690.50 686.10,687.20 810.90,651.50 873.30,663.50 935.70,688.90" fill="none" stroke="#00B050" stroke-width="1.6" stroke-linejoin="round"/><polyline points="561.30,697.00 686.10,697.00 810.90,661.90 873.30,679.80 935.70,697.00" fill="none" stroke="#C00000" stroke-width="1.6" stroke-linejoin="round"/><circle cx="561.30" cy="636.90" r="6.3" fill="#4472C4"/><circle cx="686.10" cy="558.90" r="6.3" fill="#4472C4"/><circle cx="810.90" cy="523.10" r="6.3" fill="#4472C4"/><circle cx="873.30" cy="579.30" r="6.3" fill="#4472C4"/><circle cx="935.70" cy="634.30" r="6.3" fill="#4472C4"/><path d="M561.30 647.10L567.50 658.10H555.10Z" fill="#000"/><path d="M686.10 588.30L692.30 599.30H679.90Z" fill="#000"/><path d="M810.90 576.30L817.10 587.30H804.70Z" fill="#000"/><path d="M873.30 593.50L879.50 604.50H867.10Z" fill="#000"/><path d="M935.70 647.10L941.90 658.10H929.50Z" fill="#000"/><rect x="554.80" y="684.00" width="13" height="13" fill="#00B050"/><rect x="679.60" y="680.70" width="13" height="13" fill="#00B050"/><rect x="804.40" y="645.00" width="13" height="13" fill="#00B050"/><rect x="866.80" y="657.00" width="13" height="13" fill="#00B050"/><rect x="929.20" y="682.40" width="13" height="13" fill="#00B050"/><path d="M561.30 690.50L567.70 697.00L561.30 703.50L554.90 697.00Z" fill="#C00000"/><path d="M686.10 690.50L692.50 697.00L686.10 703.50L679.70 697.00Z" fill="#C00000"/><path d="M810.90 655.40L817.30 661.90L810.90 668.40L804.50 661.90Z" fill="#C00000"/><path d="M873.30 673.30L879.70 679.80L873.30 686.30L866.90 679.80Z" fill="#C00000"/><path d="M935.70 690.50L942.10 697.00L935.70 703.50L929.30 697.00Z" fill="#C00000"/></g>
<g><line x1="1015.9" y1="473.10" x2="1015.9" y2="701.50" stroke="#000" stroke-width="1.5"/><line x1="1010.4" y1="701.50" x2="1015.9" y2="701.50" stroke="#000" stroke-width="1.5"/><text transform="translate(990.70,707.29) scale(0.92,1)" font-size="16.6" fill="#595959" stroke="#595959" stroke-width="0.35">0</text><line x1="1010.4" y1="644.60" x2="1015.9" y2="644.60" stroke="#000" stroke-width="1.5"/><text transform="translate(990.85,650.39) scale(0.92,1)" font-size="16.6" fill="#595959" stroke="#595959" stroke-width="0.35">1</text><line x1="1010.4" y1="587.70" x2="1015.9" y2="587.70" stroke="#000" stroke-width="1.5"/><text transform="translate(990.89,593.49) scale(0.92,1)" font-size="16.6" fill="#595959" stroke="#595959" stroke-width="0.35">2</text><line x1="1010.4" y1="530.80" x2="1015.9" y2="530.80" stroke="#000" stroke-width="1.5"/><text transform="translate(990.77,536.59) scale(0.92,1)" font-size="16.6" fill="#595959" stroke="#595959" stroke-width="0.35">3</text><line x1="1010.4" y1="473.90" x2="1015.9" y2="473.90" stroke="#000" stroke-width="1.5"/><text transform="translate(990.54,479.69) scale(0.92,1)" font-size="16.6" fill="#595959" stroke="#595959" stroke-width="0.35">4</text><line x1="1015.9" y1="701.5" x2="1390.60" y2="701.5" stroke="#44546A" stroke-width="1.8"/><line x1="1015.90" y1="701.5" x2="1015.90" y2="707.00" stroke="#44546A" stroke-width="1.5"/><text transform="translate(1011.64,729.61) scale(0.92,1)" font-size="16.6" fill="#595959" stroke="#595959" stroke-width="0.35">0</text><line x1="1093.65" y1="701.5" x2="1093.65" y2="707.00" stroke="#44546A" stroke-width="1.5"/><text transform="translate(1089.41,729.61) scale(0.92,1)" font-size="16.6" fill="#595959" stroke="#595959" stroke-width="0.35">5</text><line x1="1171.40" y1="701.5" x2="1171.40" y2="707.00" stroke="#44546A" stroke-width="1.5"/><text transform="translate(1162.64,729.61) scale(0.92,1)" font-size="16.6" fill="#595959" stroke="#595959" stroke-width="0.35">10</text><line x1="1249.15" y1="701.5" x2="1249.15" y2="707.00" stroke="#44546A" stroke-width="1.5"/><text transform="translate(1240.41,729.61) scale(0.92,1)" font-size="16.6" fill="#595959" stroke="#595959" stroke-width="0.35">15</text><line x1="1326.90" y1="701.5" x2="1326.90" y2="707.00" stroke="#44546A" stroke-width="1.5"/><text transform="translate(1318.33,729.61) scale(0.92,1)" font-size="16.6" fill="#595959" stroke="#595959" stroke-width="0.35">20</text><path d="M1015.90 625.50V648.30M1014.50 625.50H1017.30M1014.50 648.30H1017.30" stroke="#4472C4" stroke-width="1.7" fill="none"/><path d="M1140.30 575.10V608.90M1138.90 575.10H1141.70M1138.90 608.90H1141.70" stroke="#4472C4" stroke-width="1.7" fill="none"/><path d="M1264.70 522.10V535.90M1263.30 522.10H1266.10M1263.30 535.90H1266.10" stroke="#4472C4" stroke-width="1.7" fill="none"/><path d="M1326.90 595.30V621.30M1325.50 595.30H1328.30M1325.50 621.30H1328.30" stroke="#4472C4" stroke-width="1.7" fill="none"/><path d="M1389.10 618.00V652.40M1387.70 618.00H1390.50M1387.70 652.40H1390.50" stroke="#4472C4" stroke-width="1.7" fill="none"/><path d="M1015.90 648.00V660.00M1014.50 648.00H1017.30M1014.50 660.00H1017.30" stroke="#000" stroke-width="1.7" fill="none"/><path d="M1140.30 590.00V633.60M1138.90 590.00H1141.70M1138.90 633.60H1141.70" stroke="#000" stroke-width="1.7" fill="none"/><path d="M1264.70 561.50V604.40M1263.30 561.50H1266.10M1263.30 604.40H1266.10" stroke="#000" stroke-width="1.7" fill="none"/><path d="M1326.90 606.00V635.90M1325.50 606.00H1328.30M1325.50 635.90H1328.30" stroke="#000" stroke-width="1.7" fill="none"/><path d="M1389.10 636.60V663.80M1387.70 636.60H1390.50M1387.70 663.80H1390.50" stroke="#000" stroke-width="1.7" fill="none"/><path d="M1015.90 693.00V698.00M1014.50 693.00H1017.30M1014.50 698.00H1017.30" stroke="#00B050" stroke-width="1.7" fill="none"/><path d="M1140.30 632.00V654.80M1138.90 632.00H1141.70M1138.90 654.80H1141.70" stroke="#00B050" stroke-width="1.7" fill="none"/><path d="M1264.70 640.00V653.00M1263.30 640.00H1266.10M1263.30 653.00H1266.10" stroke="#00B050" stroke-width="1.7" fill="none"/><path d="M1326.90 655.00V662.00M1325.50 655.00H1328.30M1325.50 662.00H1328.30" stroke="#00B050" stroke-width="1.7" fill="none"/><path d="M1389.10 694.00V698.00M1387.70 694.00H1390.50M1387.70 698.00H1390.50" stroke="#00B050" stroke-width="1.7" fill="none"/><path d="M1015.90 692.00V697.00M1014.50 692.00H1017.30M1014.50 697.00H1017.30" stroke="#C00000" stroke-width="1.7" fill="none"/><path d="M1140.30 648.20V661.20M1138.90 648.20H1141.70M1138.90 661.20H1141.70" stroke="#C00000" stroke-width="1.7" fill="none"/><path d="M1264.70 643.40V659.60M1263.30 643.40H1266.10M1263.30 659.60H1266.10" stroke="#C00000" stroke-width="1.7" fill="none"/><path d="M1326.90 665.00V673.00M1325.50 665.00H1328.30M1325.50 673.00H1328.30" stroke="#C00000" stroke-width="1.7" fill="none"/><path d="M1389.10 694.00V698.00M1387.70 694.00H1390.50M1387.70 698.00H1390.50" stroke="#C00000" stroke-width="1.7" fill="none"/><polyline points="1015.90,636.90 1140.30,592.00 1264.70,529.00 1326.90,608.30 1389.10,635.20" fill="none" stroke="#5B9BD5" stroke-width="1.6" stroke-linejoin="round"/><polyline points="1015.90,654.10 1140.30,611.80 1264.70,583.20 1326.90,621.00 1389.10,650.20" fill="none" stroke="#000" stroke-width="1.6" stroke-linejoin="round"/><polyline points="1015.90,695.40 1140.30,643.40 1264.70,646.60 1326.90,658.60 1389.10,696.00" fill="none" stroke="#00B050" stroke-width="1.6" stroke-linejoin="round"/><polyline points="1015.90,694.40 1140.30,654.70 1264.70,651.50 1326.90,669.40 1389.10,696.00" fill="none" stroke="#C00000" stroke-width="1.6" stroke-linejoin="round"/><circle cx="1015.90" cy="636.90" r="6.3" fill="#4472C4"/><circle cx="1140.30" cy="592.00" r="6.3" fill="#4472C4"/><circle cx="1264.70" cy="529.00" r="6.3" fill="#4472C4"/><circle cx="1326.90" cy="608.30" r="6.3" fill="#4472C4"/><circle cx="1389.10" cy="635.20" r="6.3" fill="#4472C4"/><path d="M1015.90 648.10L1022.10 659.10H1009.70Z" fill="#000"/><path d="M1140.30 605.80L1146.50 616.80H1134.10Z" fill="#000"/><path d="M1264.70 577.20L1270.90 588.20H1258.50Z" fill="#000"/><path d="M1326.90 615.00L1333.10 626.00H1320.70Z" fill="#000"/><path d="M1389.10 644.20L1395.30 655.20H1382.90Z" fill="#000"/><rect x="1009.40" y="688.90" width="13" height="13" fill="#00B050"/><rect x="1133.80" y="636.90" width="13" height="13" fill="#00B050"/><rect x="1258.20" y="640.10" width="13" height="13" fill="#00B050"/><rect x="1320.40" y="652.10" width="13" height="13" fill="#00B050"/><rect x="1382.60" y="689.50" width="13" height="13" fill="#00B050"/><path d="M1015.90 687.90L1022.30 694.40L1015.90 700.90L1009.50 694.40Z" fill="#C00000"/><path d="M1140.30 648.20L1146.70 654.70L1140.30 661.20L1133.90 654.70Z" fill="#C00000"/><path d="M1264.70 645.00L1271.10 651.50L1264.70 658.00L1258.30 651.50Z" fill="#C00000"/><path d="M1326.90 662.90L1333.30 669.40L1326.90 675.90L1320.50 669.40Z" fill="#C00000"/><path d="M1389.10 689.50L1395.50 696.00L1389.10 702.50L1382.70 696.00Z" fill="#C00000"/></g>
<g><line x1="1472.9" y1="464.70" x2="1472.9" y2="703.50" stroke="#000" stroke-width="1.5"/><line x1="1467.4" y1="703.50" x2="1472.9" y2="703.50" stroke="#000" stroke-width="1.5"/><text transform="translate(1447.70,709.29) scale(0.92,1)" font-size="16.6" fill="#595959" stroke="#595959" stroke-width="0.35">0</text><line x1="1467.4" y1="644.00" x2="1472.9" y2="644.00" stroke="#000" stroke-width="1.5"/><text transform="translate(1447.85,649.79) scale(0.92,1)" font-size="16.6" fill="#595959" stroke="#595959" stroke-width="0.35">1</text><line x1="1467.4" y1="584.50" x2="1472.9" y2="584.50" stroke="#000" stroke-width="1.5"/><text transform="translate(1447.89,590.29) scale(0.92,1)" font-size="16.6" fill="#595959" stroke="#595959" stroke-width="0.35">2</text><line x1="1467.4" y1="525.00" x2="1472.9" y2="525.00" stroke="#000" stroke-width="1.5"/><text transform="translate(1447.77,530.79) scale(0.92,1)" font-size="16.6" fill="#595959" stroke="#595959" stroke-width="0.35">3</text><line x1="1467.4" y1="465.50" x2="1472.9" y2="465.50" stroke="#000" stroke-width="1.5"/><text transform="translate(1447.54,471.29) scale(0.92,1)" font-size="16.6" fill="#595959" stroke="#595959" stroke-width="0.35">4</text><line x1="1472.9" y1="703.5" x2="1862.00" y2="703.5" stroke="#44546A" stroke-width="1.8"/><line x1="1472.90" y1="703.5" x2="1472.90" y2="709.00" stroke="#44546A" stroke-width="1.5"/><text transform="translate(1468.64,732.21) scale(0.92,1)" font-size="16.6" fill="#595959" stroke="#595959" stroke-width="0.35">0</text><line x1="1553.65" y1="703.5" x2="1553.65" y2="709.00" stroke="#44546A" stroke-width="1.5"/><text transform="translate(1549.41,732.21) scale(0.92,1)" font-size="16.6" fill="#595959" stroke="#595959" stroke-width="0.35">5</text><line x1="1634.40" y1="703.5" x2="1634.40" y2="709.00" stroke="#44546A" stroke-width="1.5"/><text transform="translate(1625.64,732.21) scale(0.92,1)" font-size="16.6" fill="#595959" stroke="#595959" stroke-width="0.35">10</text><line x1="1715.15" y1="703.5" x2="1715.15" y2="709.00" stroke="#44546A" stroke-width="1.5"/><text transform="translate(1706.41,732.21) scale(0.92,1)" font-size="16.6" fill="#595959" stroke="#595959" stroke-width="0.35">15</text><line x1="1795.90" y1="703.5" x2="1795.90" y2="709.00" stroke="#44546A" stroke-width="1.5"/><text transform="translate(1787.33,732.21) scale(0.92,1)" font-size="16.6" fill="#595959" stroke="#595959" stroke-width="0.35">20</text><path d="M1472.90 609.20V639.80M1471.50 609.20H1474.30M1471.50 639.80H1474.30" stroke="#4472C4" stroke-width="1.7" fill="none"/><path d="M1602.10 568.00V593.00M1600.70 568.00H1603.50M1600.70 593.00H1603.50" stroke="#4472C4" stroke-width="1.7" fill="none"/><path d="M1731.30 515.00V538.40M1729.90 515.00H1732.70M1729.90 538.40H1732.70" stroke="#4472C4" stroke-width="1.7" fill="none"/><path d="M1795.90 555.60V594.60M1794.50 555.60H1797.30M1794.50 594.60H1797.30" stroke="#4472C4" stroke-width="1.7" fill="none"/><path d="M1860.50 627.10V653.10M1859.10 627.10H1861.90M1859.10 653.10H1861.90" stroke="#4472C4" stroke-width="1.7" fill="none"/><path d="M1472.90 640.00V656.00M1471.50 640.00H1474.30M1471.50 656.00H1474.30" stroke="#000" stroke-width="1.7" fill="none"/><path d="M1602.10 615.10V634.30M1600.70 615.10H1603.50M1600.70 634.30H1603.50" stroke="#000" stroke-width="1.7" fill="none"/><path d="M1731.30 570.20V605.30M1729.90 570.20H1732.70M1729.90 605.30H1732.70" stroke="#000" stroke-width="1.7" fill="none"/><path d="M1795.90 612.50V641.70M1794.50 612.50H1797.30M1794.50 641.70H1797.30" stroke="#000" stroke-width="1.7" fill="none"/><path d="M1860.50 646.60V679.80M1859.10 646.60H1861.90M1859.10 679.80H1861.90" stroke="#000" stroke-width="1.7" fill="none"/><path d="M1472.90 695.00V700.00M1471.50 695.00H1474.30M1471.50 700.00H1474.30" stroke="#00B050" stroke-width="1.7" fill="none"/><path d="M1602.10 677.50V690.50M1600.70 677.50H1603.50M1600.70 690.50H1603.50" stroke="#00B050" stroke-width="1.7" fill="none"/><path d="M1731.30 634.60V658.60M1729.90 634.60H1732.70M1729.90 658.60H1732.70" stroke="#00B050" stroke-width="1.7" fill="none"/><path d="M1795.90 668.00V679.00M1794.50 668.00H1797.30M1794.50 679.00H1797.30" stroke="#00B050" stroke-width="1.7" fill="none"/><path d="M1860.50 693.00V698.00M1859.10 693.00H1861.90M1859.10 698.00H1861.90" stroke="#00B050" stroke-width="1.7" fill="none"/><path d="M1472.90 698.00V701.00M1471.50 698.00H1474.30M1471.50 701.00H1474.30" stroke="#C00000" stroke-width="1.7" fill="none"/><path d="M1602.10 686.00V692.00M1600.70 686.00H1603.50M1600.70 692.00H1603.50" stroke="#C00000" stroke-width="1.7" fill="none"/><path d="M1731.30 641.00V660.60M1729.90 641.00H1732.70M1729.90 660.60H1732.70" stroke="#C00000" stroke-width="1.7" fill="none"/><path d="M1795.90 632.00V683.30M1794.50 632.00H1797.30M1794.50 683.30H1797.30" stroke="#C00000" stroke-width="1.7" fill="none"/><path d="M1860.50 698.00V702.00M1859.10 698.00H1861.90M1859.10 702.00H1861.90" stroke="#C00000" stroke-width="1.7" fill="none"/><polyline points="1472.90,624.50 1602.10,580.60 1731.30,527.30 1795.90,575.10 1860.50,640.10" fill="none" stroke="#5B9BD5" stroke-width="1.6" stroke-linejoin="round"/><polyline points="1472.90,648.20 1602.10,625.50 1731.30,588.80 1795.90,627.10 1860.50,663.20" fill="none" stroke="#000" stroke-width="1.6" stroke-linejoin="round"/><polyline points="1472.90,697.60 1602.10,684.00 1731.30,646.60 1795.90,673.60 1860.50,695.40" fill="none" stroke="#00B050" stroke-width="1.6" stroke-linejoin="round"/><polyline points="1472.90,699.30 1602.10,688.90 1731.30,650.80 1795.90,658.60 1860.50,700.20" fill="none" stroke="#C00000" stroke-width="1.6" stroke-linejoin="round"/><circle cx="1472.90" cy="624.50" r="6.3" fill="#4472C4"/><circle cx="1602.10" cy="580.60" r="6.3" fill="#4472C4"/><circle cx="1731.30" cy="527.30" r="6.3" fill="#4472C4"/><circle cx="1795.90" cy="575.10" r="6.3" fill="#4472C4"/><circle cx="1860.50" cy="640.10" r="6.3" fill="#4472C4"/><path d="M1472.90 642.20L1479.10 653.20H1466.70Z" fill="#000"/><path d="M1602.10 619.50L1608.30 630.50H1595.90Z" fill="#000"/><path d="M1731.30 582.80L1737.50 593.80H1725.10Z" fill="#000"/><path d="M1795.90 621.10L1802.10 632.10H1789.70Z" fill="#000"/><path d="M1860.50 657.20L1866.70 668.20H1854.30Z" fill="#000"/><rect x="1466.40" y="691.10" width="13" height="13" fill="#00B050"/><rect x="1595.60" y="677.50" width="13" height="13" fill="#00B050"/><rect x="1724.80" y="640.10" width="13" height="13" fill="#00B050"/><rect x="1789.40" y="667.10" width="13" height="13" fill="#00B050"/><rect x="1854.00" y="688.90" width="13" height="13" fill="#00B050"/><path d="M1472.90 692.80L1479.30 699.30L1472.90 705.80L1466.50 699.30Z" fill="#C00000"/><path d="M1602.10 682.40L1608.50 688.90L1602.10 695.40L1595.70 688.90Z" fill="#C00000"/><path d="M1731.30 644.30L1737.70 650.80L1731.30 657.30L1724.90 650.80Z" fill="#C00000"/><path d="M1795.90 652.10L1802.30 658.60L1795.90 665.10L1789.50 658.60Z" fill="#C00000"/><path d="M1860.50 693.70L1866.90 700.20L1860.50 706.70L1854.10 700.20Z" fill="#C00000"/></g>
<rect x="107.10" y="743" width="257.30" height="30.7" fill="#fff" stroke="#000" stroke-width="2"/>
<rect x="364.40" y="743" width="135.80" height="30.7" fill="#000" stroke="#41719C" stroke-width="2"/>
<text transform="translate(204.21,767.70) scale(0.9687,1)" font-size="29.96" fill="#000">Light</text>
<text transform="translate(405.70,767.70) scale(0.9655,1)" font-size="26.33" fill="#fff">Dark</text>
<rect x="556.70" y="743" width="257.00" height="30.7" fill="#fff" stroke="#000" stroke-width="2"/>
<rect x="813.70" y="743" width="135.70" height="30.7" fill="#000" stroke="#41719C" stroke-width="2"/>
<text transform="translate(653.81,767.70) scale(0.9687,1)" font-size="29.96" fill="#000">Light</text>
<text transform="translate(855.30,767.70) scale(0.9655,1)" font-size="26.33" fill="#fff">Dark</text>
<rect x="1012.80" y="743" width="257.10" height="30.7" fill="#fff" stroke="#000" stroke-width="2"/>
<rect x="1269.90" y="743" width="135.60" height="30.7" fill="#000" stroke="#41719C" stroke-width="2"/>
<text transform="translate(1109.91,767.70) scale(0.9687,1)" font-size="29.96" fill="#000">Light</text>
<text transform="translate(1311.40,767.70) scale(0.9655,1)" font-size="26.33" fill="#fff">Dark</text>
<rect x="1469.90" y="743" width="257.70" height="30.7" fill="#fff" stroke="#000" stroke-width="2"/>
<rect x="1727.60" y="743" width="135.20" height="30.7" fill="#000" stroke="#41719C" stroke-width="2"/>
<text transform="translate(1567.01,767.70) scale(0.9687,1)" font-size="29.96" fill="#000">Light</text>
<text transform="translate(1768.50,767.70) scale(0.9655,1)" font-size="26.33" fill="#fff">Dark</text>
<line x1="111" y1="842" x2="163" y2="842" stroke="#4472C4" stroke-width="3"/>
<circle cx="135.9" cy="841.8" r="11.2" fill="#4472C4"/>
<text transform="translate(173.93,853.10) scale(1.0250,1)" font-size="33.60" fill="#000">Wild type</text>
<line x1="342" y1="841.6" x2="398.2" y2="841.6" stroke="#000" stroke-width="3.3"/>
<path d="M367.6 829L380.3 854H355Z" fill="#000"/>
<text transform="translate(406.32,850.40) scale(0.9760,1)" font-size="33.60" font-style="italic" fill="#000">Ppgwdb</text>
<line x1="112.7" y1="898.9" x2="164.1" y2="898.9" stroke="#00B050" stroke-width="3"/>
<rect x="124.9" y="887.7" width="22.8" height="22.7" fill="#00B050"/>
<text transform="translate(173.01,908.10) scale(0.9818,1)" font-size="33.45" font-style="italic" fill="#000">Ppgwda</text>
<line x1="338.1" y1="903" x2="401.8" y2="903" stroke="#C00000" stroke-width="3.6"/>
<path d="M368.3 888.8L381.2 903L368.3 917.2L355.4 903Z" fill="#C00000"/>
<text transform="translate(408.99,911.60) scale(1.0283,1)" font-size="33.16" fill="#000">DM</text>
<text transform="translate(834.24,901.10) scale(1.0009,1)" font-size="51.64" fill="#000">Time (hours)</text>
<text transform="translate(40.8,522.11) rotate(-90) scale(0.9615,1)" font-size="51.05" fill="#000">mg gFW</text>
<text transform="translate(24,334.25) rotate(-90) scale(1.0281,1)" font-size="33.40" fill="#000">-1</text></svg>
</body></html>
